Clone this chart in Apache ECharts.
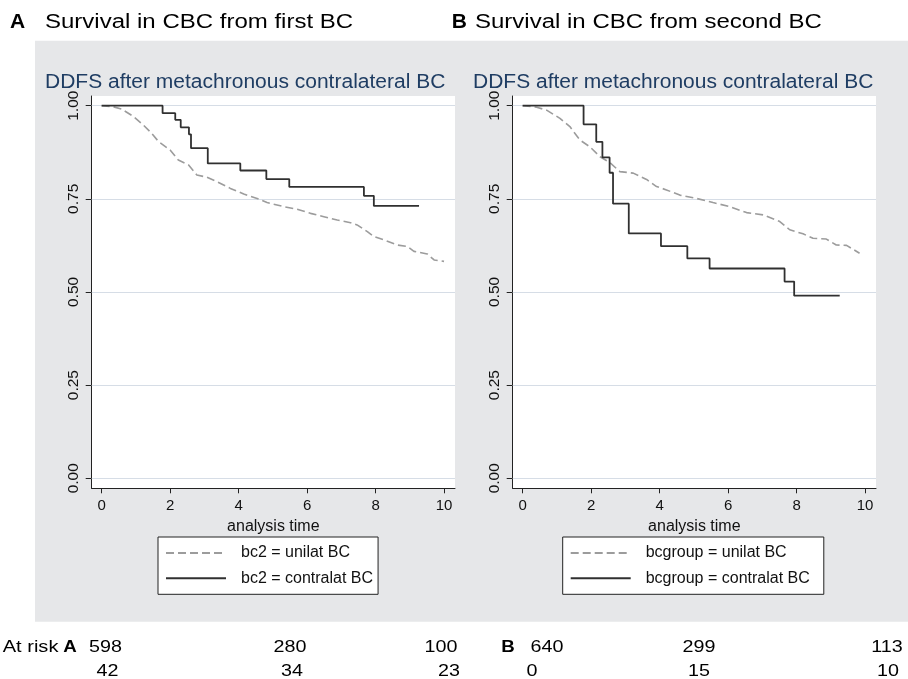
<!DOCTYPE html>
<html>
<head>
<meta charset="utf-8">
<script src="https://cdn.jsdelivr.net/npm/echarts@6/dist/echarts.min.js"></script>
<style>
html,body{margin:0;padding:0;background:#fff;}
#chart{width:908px;height:679px;}
</style>
</head>
<body>
<div id="chart"></div>
<script>
// ---------- data ----------
const xTicks = [0, 2, 4, 6, 8, 10];
const yTicks = [0, 0.25, 0.5, 0.75, 1];

// Panel A: from first BC
const tA_uni = [0, 0.34, 0.58, 0.93, 1.22, 1.46, 1.66, 2.00, 2.24, 2.54, 2.78, 3.07, 3.37, 3.76, 4.15, 4.54, 4.83, 5.32, 5.71, 6.10, 6.49, 6.88, 7.27, 7.46, 7.76, 7.95, 8.24, 8.63, 8.93, 9.12, 9.51, 9.71, 10.0];
const sA_uni = [1.0, 0.997, 0.991, 0.971, 0.948, 0.926, 0.904, 0.881, 0.854, 0.841, 0.814, 0.808, 0.796, 0.778, 0.763, 0.751, 0.740, 0.729, 0.722, 0.711, 0.702, 0.693, 0.686, 0.680, 0.662, 0.649, 0.640, 0.626, 0.622, 0.609, 0.602, 0.586, 0.582];
const tA_con = [0, 1.78, 2.15, 2.31, 2.55, 2.61, 3.10, 4.05, 4.81, 5.48, 7.66, 7.95, 9.27];
const sA_con = [1.0, 0.980, 0.962, 0.942, 0.923, 0.886, 0.845, 0.826, 0.803, 0.782, 0.758, 0.731, 0.731];

// Panel B: from second BC
const tB_uni = [0, 0.41, 0.70, 1.09, 1.38, 1.67, 1.96, 2.26, 2.55, 2.84, 3.23, 3.62, 3.91, 4.20, 4.59, 5.08, 5.56, 6.05, 6.54, 7.02, 7.51, 7.80, 8.19, 8.48, 8.87, 9.16, 9.46, 9.84];
const sB_uni = [1.0, 0.996, 0.988, 0.966, 0.944, 0.908, 0.890, 0.863, 0.847, 0.823, 0.819, 0.802, 0.783, 0.774, 0.760, 0.751, 0.740, 0.729, 0.713, 0.707, 0.689, 0.667, 0.656, 0.644, 0.642, 0.626, 0.625, 0.604];
const tB_con = [0, 1.78, 2.15, 2.33, 2.54, 2.64, 3.10, 4.04, 4.81, 5.46, 7.65, 7.93, 9.26];
const sB_con = [1.0, 0.950, 0.903, 0.861, 0.820, 0.737, 0.657, 0.623, 0.590, 0.563, 0.528, 0.490, 0.490];

const namesA = ['bc2 = unilat BC', 'bc2 = contralat BC'];
const namesB = ['bcgroup = unilat BC', 'bcgroup = contralat BC'];

const atRiskA_uni = [598, 280, 100];
const atRiskA_con = [42, 34, 23];
const atRiskB_uni = [640, 299, 113];
const atRiskB_con = [0, 15, 10];

// ---------- layout / style ----------
const FONT = '"Liberation Sans", Arial, Helvetica, sans-serif';
const zip = (a, b) => a.map((v, i) => [v, b[i]]);
const gridColor = '#d6dde6';
const axisColor = '#222';

const grids = [
  { left: 91.7, top: 96, width: 363.3, height: 392.3 },
  { left: 512.7, top: 96, width: 363.3, height: 392.3 }
];

function xAxisCfg(i) {
  return {
    type: 'value', gridIndex: i, min: -0.29, max: 10.32,
    axisLine: { show: true, onZero: false, lineStyle: { color: axisColor, width: 1 } },
    axisTick: { show: true, customValues: xTicks, length: 5, lineStyle: { color: axisColor } },
    axisLabel: { customValues: xTicks, fontSize: 15, fontFamily: FONT, color: '#111', margin: 10 },
    splitLine: { show: false },
    name: 'analysis time', nameLocation: 'middle', nameGap: 25,
    nameTextStyle: { fontSize: 16, fontFamily: FONT, color: '#111' }
  };
}
function yAxisCfg(i) {
  return {
    type: 'value', gridIndex: i, min: -0.027, max: 1.026,
    axisLine: { show: true, onZero: false, lineStyle: { color: axisColor, width: 1 } },
    axisTick: { show: true, customValues: yTicks, length: 6, lineStyle: { color: axisColor } },
    axisLabel: { customValues: yTicks, rotate: 90, fontSize: 15.5, fontFamily: FONT, color: '#111', margin: 10,
      formatter: v => Number(v).toFixed(2) },
    splitLine: { show: false }
  };
}
function gridLines(i) {
  return {
    type: 'line', xAxisIndex: i, yAxisIndex: i, data: [], z: 1, silent: true,
    markLine: { silent: true, symbol: 'none', z: 1, animation: false, label: { show: false },
      lineStyle: { color: gridColor, type: 'solid', width: 1.2 },
      data: yTicks.map(v => ({ yAxis: v })) }
  };
}
function uniSeries(i, name, t, s) {
  return { type: 'line', name, xAxisIndex: i, yAxisIndex: i, data: zip(t, s), symbol: 'none', z: 3,
    lineStyle: { color: '#9c9c9c', width: 1.6, type: [8, 4] }, itemStyle: { color: '#9c9c9c' } };
}
function conSeries(i, name, t, s) {
  return { type: 'line', name, xAxisIndex: i, yAxisIndex: i, data: zip(t, s), symbol: 'none', step: 'end', z: 4,
    lineStyle: { color: '#303030', width: 1.8, type: 'solid' }, itemStyle: { color: '#303030' } };
}
function legendCfg(names, left, padRight) {
  return {
    data: names, orient: 'vertical', left, top: 537, itemWidth: 60, itemHeight: 14, itemGap: 9.3,
    padding: [8, padRight, 8, 7], borderColor: '#222', borderWidth: 1, backgroundColor: '#fff',
    selectedMode: false,
    itemStyle: { opacity: 0 },
    textStyle: { fontSize: 16, fontFamily: FONT, color: '#111', padding: [0, 0, 0, 10] }
  };
}

function txt(x, y, text, size, opts) {
  opts = opts || {};
  return { type: 'text', x, y, scaleX: opts.sx || 1, z: 10, silent: true,
    style: { text: String(text), fontSize: size, fontFamily: FONT, fontWeight: opts.bold ? 'bold' : 'normal',
      fill: opts.color || '#000', align: opts.align || 'left', verticalAlign: 'middle' } };
}

const graphics = [
  { type: 'rect', shape: { x: 35, y: 40.7, width: 873, height: 581 }, style: { fill: '#e6e7e9' }, z: -100, silent: true },
  txt(10, 22.5, 'A', 20, { bold: true, sx: 1.05 }),
  txt(45, 22.5, 'Survival in CBC from first BC', 20, { sx: 1.2 }),
  txt(451.7, 22.5, 'B', 20, { bold: true, sx: 1.05 }),
  txt(475, 22.5, 'Survival in CBC from second BC', 20, { sx: 1.2 }),
  txt(45, 82, 'DDFS after metachronous contralateral BC', 20, { sx: 1.05, color: '#1f3d63' }),
  txt(473, 82, 'DDFS after metachronous contralateral BC', 20, { sx: 1.05, color: '#1f3d63' }),
  txt(2.7, 647.5, 'At risk', 17, { sx: 1.18 }),
  txt(70, 647.5, 'A', 17, { bold: true, align: 'center', sx: 1.1 }),
  txt(508, 647.5, 'B', 17, { bold: true, align: 'center', sx: 1.1 })
];
const row1X = [105.5, 290, 441, 547, 699, 887];
const row2X = [107.5, 292, 449, 532, 699, 888];
const row1 = atRiskA_uni.concat(atRiskB_uni);
const row2 = atRiskA_con.concat(atRiskB_con);
row1.forEach((v, i) => graphics.push(txt(row1X[i], 647.5, v, 17, { align: 'center', sx: 1.16 })));
row2.forEach((v, i) => graphics.push(txt(row2X[i], 671, v, 17, { align: 'center', sx: 1.16 })));

const option = {
  animation: false,
  backgroundColor: '#fff',
  grid: grids.map(g => Object.assign({ show: true, backgroundColor: '#fff', borderWidth: 0, containLabel: false }, g)),
  xAxis: [xAxisCfg(0), xAxisCfg(1)],
  yAxis: [yAxisCfg(0), yAxisCfg(1)],
  legend: [legendCfg(namesA, 158, 5), legendCfg(namesB, 562.7, 14)],
  series: [
    gridLines(0), gridLines(1),
    uniSeries(0, namesA[0], tA_uni, sA_uni),
    conSeries(0, namesA[1], tA_con, sA_con),
    uniSeries(1, namesB[0], tB_uni, sB_uni),
    conSeries(1, namesB[1], tB_con, sB_con)
  ],
  graphic: graphics
};

const chart = echarts.init(document.getElementById('chart'), null, { renderer: 'canvas' });
chart.setOption(option);
</script>
</body>
</html>
